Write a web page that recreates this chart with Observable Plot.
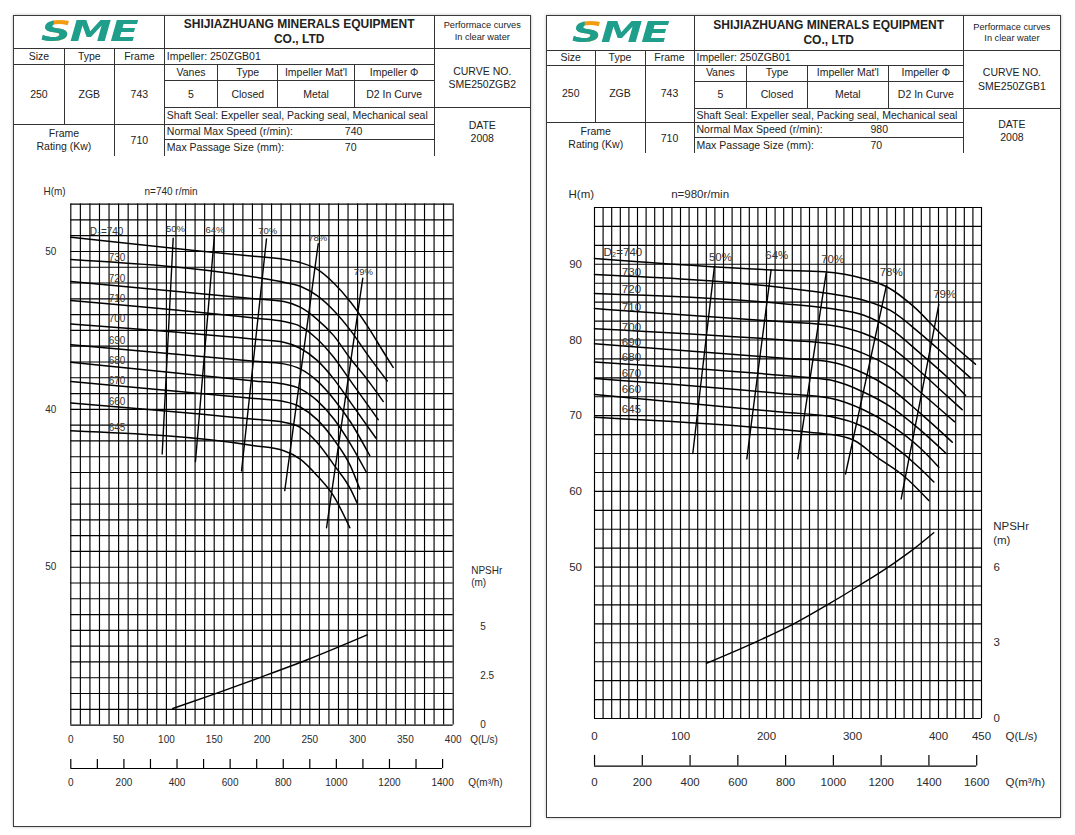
<!DOCTYPE html>
<html>
<head>
<meta charset="utf-8">
<script src="https://cdn.jsdelivr.net/npm/d3@7"></script>
<script src="https://cdn.jsdelivr.net/npm/@observablehq/plot@0.6"></script>
<style>
  html, body { margin: 0; padding: 0; background: #fff; }
  body { width: 1075px; height: 835px; position: relative; overflow: hidden;
         font-family: "Liberation Sans", Arial, Helvetica, sans-serif; color: #222; }
  .panel { position: absolute; border: 1px solid #3a3a3a; background: #fff; box-shadow: 0 0 3px #bbb; }
  .panel table { position: absolute; left: 0; top: 0; border-collapse: collapse; table-layout: fixed;
                 border-style: hidden; font-size: 10.5px; }
  .panel td { border: 1px solid #333; padding: 0; text-align: center; vertical-align: middle;
              line-height: 1.27; overflow: hidden; white-space: nowrap; }
  .panel td.l { text-align: left; padding-left: 2px; }
  .panel td.title { font-weight: bold; font-size: 12px; line-height: 1.27; }
  .panel td.small { font-size: 9.2px; line-height: 1.26; }
  .panel td.logocell { overflow: visible; line-height: 0.8; }
  .logo { display: inline-block; font-family: "DejaVu Sans", sans-serif; font-size: 28px; font-weight: bold;
          font-style: italic; letter-spacing: -1px; color: #1f9e8c; transform: scaleX(1.5); line-height: 0.8; }
  .logo .s { background: linear-gradient(to bottom, rgba(0,0,0,0) 0 36%, #1f9e8c 36%),
                         linear-gradient(to right, #1f9e8c 0 44%, #f39c12 44%);
             -webkit-background-clip: text; background-clip: text; color: transparent; }
  .panel .svgbox { position: absolute; left: 0; }
  .panel svg { display: block; }
</style>
</head>
<body>
<script>
// ---------------- DATA ----------------
const company = ["SHIJIAZHUANG MINERALS EQUIPMENT", "CO., LTD"];
const perfNote = ["Performace curves", "In clear water"];
const headerRow = ["Size", "Type", "Frame"];
const headerVals = ["250", "ZGB", "743"];
const impellerHead = ["Vanes", "Type", "Impeller Mat'l", "Impeller \u03A6"];
const impellerVals = ["5", "Closed", "Metal", "D2 In Curve"];
const shaftSeal = "Shaft Seal: Expeller seal, Packing seal, Mechanical seal";
const frameRating = "710";
const maxPassage = "70";
const dateText = "2008";

// Left chart (n = 740 r/min)
const leftCurveNo = "SME250ZGB2";
const leftSpeed = "740";
const leftD2 = [740, 730, 720, 710, 700, 690, 680, 670, 660, 645];
const leftHeadPts = [
  [[0,50.9],[129,50.06],[195,49.68],[223,49.5],[240,49.3],[258,48.86],[275,48.0],[292.6,46.8],[310,45.3],[327.4,43.6],[337.2,42.66]],
  [[0,49.49],[190,48.4],[222.8,48.05],[240,47.8],[257.7,47.2],[275,46.26],[292.6,45.0],[310,43.5],[331,41.8]],
  [[0,48.1],[192,47.0],[222.8,46.83],[240,46.47],[257.7,45.7],[275,44.67],[292.6,43.2],[310,41.9],[326.8,40.5]],
  [[0,46.9],[192,45.78],[222.8,45.56],[240,45.26],[257.7,44.46],[275,43.3],[292.6,41.8],[321.5,39.35]],
  [[0,45.4],[192,44.44],[222.8,44.25],[240,43.87],[257.7,43.1],[275,41.93],[292.6,40.44],[319.4,38.16]],
  [[0,44.1],[192,43.04],[222.8,42.88],[240,42.56],[257.7,41.8],[275,40.66],[292.6,39.2],[312.8,37.06]],
  [[0,42.98],[192,41.8],[222.8,41.6],[240,41.3],[257.7,40.55],[275,39.4],[292.6,37.8],[309.3,36.0]],
  [[0,41.76],[192,40.68],[222.8,40.49],[240,40.15],[257.7,39.35],[275,38.1],[292.6,36.4],[302.3,34.95]],
  [[0,40.4],[192,39.37],[222.8,39.18],[240,38.86],[257.7,37.9],[275,36.5],[292.6,34.95],[299.6,34.06]],
  [[0,38.65],[192,37.7],[222.8,37.38],[240,36.85],[257.7,35.8],[275,34.5],[291.9,32.5]]
];
const leftD2LabelH = [51.27, 49.6, 48.3, 47.0, 45.73, 44.36, 43.1, 41.8, 40.5, 38.8];
const leftD2LabelQ = [19.9, 39.7, 39.7, 39.7, 39.7, 39.7, 39.7, 39.7, 39.7, 39.7];
const leftEffNames = ["50%", "64%", "70%", "78%", "79%"];
const leftEffTop = [[107.1,50.84],[150.3,51.06],[204.7,50.8],[258.8,50.49],[305.4,48.3]];
const leftEffBottom = [[95.6,37.17],[130.4,36.7],[178.6,36.1],[223.8,34.85],[267.5,32.5]];
const leftEffLabel = [[109.5,51.4],[150.8,51.38],[206,51.27],[258.3,50.87],[306,48.73]];
const leftNpsh = [[106.7,0.84],[150,1.57],[198.4,2.42],[247.3,3.31],[310,4.57]];
const leftQTicks = [0, 50, 100, 150, 200, 250, 300, 350, 400];
const leftHTicks = [50, 40, 30];
const leftHTickLabels = ["50", "40", "50"];
const leftNpshTicks = [5, 2.5, 0];
const leftNpshTickLabels = ["5", "2.5", "0"];
const leftM3hTicks = [0,100,200,300,400,500,600,700,800,900,1000,1100,1200,1300,1400];
const leftM3hLabels = [0,200,400,600,800,1000,1200,1400];

// Right chart (n = 980 r/min)
const rightCurveNo = "SME250ZGB1";
const rightSpeed = "980";
const rightD2 = [740, 730, 720, 710, 700, 690, 680, 670, 660, 645];
const rightHeadPts = [
  [[0,90.76],[216,89.2],[266.7,89.0],[313.2,88.1],[340.3,87.0],[371.3,84.4],[402.3,80.85],[443,76.8]],
  [[0,88.65],[220,86.9],[274.4,86.1],[313.2,85.25],[344,83.9],[379,80.85],[410,77.76],[437.2,75.0]],
  [[0,86.13],[220,84.8],[274.4,84.15],[313.2,83.27],[344,81.5],[379,78.2],[410,75.1],[431.4,72.7]],
  [[0,84.15],[220,82.4],[274.4,81.95],[313.2,80.85],[344,79.1],[379,75.8],[402.3,73.4],[427.5,70.8]],
  [[0,81.5],[220,80.0],[274.4,79.5],[313.2,78.2],[344,76.4],[379,73.1],[418.6,69.2]],
  [[0,79.5],[220,77.6],[274.4,77.1],[313.2,75.6],[344,73.6],[379,70.3],[416,66.5]],
  [[0,77.1],[220,75.3],[274.4,74.7],[313.2,73.1],[344,71.2],[379,68.1],[409,65.0]],
  [[0,74.9],[220,72.9],[274.4,72.3],[313.2,70.75],[344,68.8],[379,65.7],[400.4,63.2]],
  [[0,72.8],[220,70.45],[274.4,69.9],[313.2,68.5],[344,66.3],[379,63.0],[394.6,61.25]],
  [[0,69.8],[225,68.1],[260,67.7],[282,67.4],[301.5,66.75],[328.7,64.5],[360,62.0],[388.7,58.8]]
];
const rightD2LabelH = [91.55, 89.0, 86.66, 84.3, 81.7, 79.7, 77.75, 75.6, 73.45, 70.8];
const rightD2LabelQ = [10.5, 31.8, 31.8, 31.8, 31.8, 31.8, 31.8, 31.8, 31.8, 31.8];
const rightEffNames = ["50%", "64%", "70%", "78%", "79%"];
const rightEffTop = [[139.5,89.75],[205.4,89.3],[269.4,88.87],[339.5,87.2],[400.4,84.7]];
const rightEffBottom = [[114.3,65.0],[177.1,64.3],[236.4,64.3],[291.9,62.3],[356.6,59.0]];
const rightEffLabel = [[146.5,90.97],[212,91.2],[277,90.6],[345,88.9],[407.2,86.0]];
const rightNpsh = [[130.2,2.19],[183.4,2.97],[231.7,3.75],[270.6,4.5],[309.3,5.3],[348,6.15],[371.3,6.72],[394.5,7.36]];
const rightQTicks = [0, 100, 200, 300, 400, 450];
const rightHTicks = [90, 80, 70, 60, 50];
const rightHTickLabels = ["90", "80", "70", "60", "50"];
const rightNpshTicks = [6, 3, 0];
const rightNpshTickLabels = ["6", "3", "0"];
const rightM3hTicks = [0,200,400,600,800,1000,1200,1400,1600];
const rightM3hLabels = [0,200,400,600,800,1000,1200,1400,1600];

// ---------------- BUILD ----------------
const FONT = '"Liberation Sans", Arial, Helvetica, sans-serif';

function headerHTML(c) {
  const tot = c.colW.reduce((a, b) => a + b, 0);
  const r = c.rowH;
  return `<table style="width:${tot}px">
  <colgroup>${c.colW.map(w => `<col style="width:${w}px">`).join("")}</colgroup>
  <tr style="height:${r[0]}px"><td colspan="3" class="logocell"><span class="logo"><span class="s">S</span>ME</span></td>
    <td colspan="4" class="title">${company[0]}<br>${company[1]}</td>
    <td class="small">${perfNote[0]}<br>${perfNote[1]}</td></tr>
  <tr style="height:${r[1]}px"><td>${headerRow[0]}</td><td>${headerRow[1]}</td><td>${headerRow[2]}</td>
    <td colspan="4" class="l">Impeller: 250ZGB01</td><td rowspan="3">CURVE NO.<br>${c.curveNo}</td></tr>
  <tr style="height:${r[2]}px"><td rowspan="3">${headerVals[0]}</td><td rowspan="3">${headerVals[1]}</td><td rowspan="3">${headerVals[2]}</td>
    ${impellerHead.map(t => `<td>${t}</td>`).join("")}</tr>
  <tr style="height:${r[3]}px">${impellerVals.map(t => `<td>${t}</td>`).join("")}</tr>
  <tr style="height:${r[4]}px"><td colspan="4" class="l">${shaftSeal}</td><td rowspan="3">DATE<br>${dateText}</td></tr>
  <tr style="height:${r[5]}px"><td colspan="2" rowspan="2">Frame<br>Rating (Kw)</td><td rowspan="2">${frameRating}</td>
    <td colspan="4" class="l"><span style="display:inline-block;width:${c.valueIndent}px">Normal Max Speed (r/min):</span>${c.speed}</td></tr>
  <tr style="height:${r[6]}px"><td colspan="4" class="l"><span style="display:inline-block;width:${c.valueIndent}px">Max Passage Size (mm):</span>${maxPassage}</td></tr>
  </table>`;
}

function mainPlot(c) {
  const toH = c.npshToH;
  const [yMin] = c.hDomain;
  const xMax = c.qDomain[1];
  const hLab = new Map(c.hTicks.map((t, i) => [t, c.hTickLabels[i]]));
  const nTicksH = c.npshTicks.map(toH);
  const nLab = new Map(nTicksH.map((t, i) => [t, c.npshTickLabels[i]]));
  const headRows = c.headPts.flatMap((pts, k) => pts.map(([q, h]) => ({d2: c.d2[k], q, h})));
  const effRows = c.effNames.flatMap((e, k) => [
    {eff: e, q: c.effTop[k][0], h: c.effTop[k][1]},
    {eff: e, q: c.effBottom[k][0], h: c.effBottom[k][1]}
  ]);
  const effLabels = c.effNames.map((e, k) => ({text: e, q: c.effLabel[k][0], h: c.effLabel[k][1]}));
  const d2Labels = c.d2.map((d, k) => ({text: k === 0 ? "D\u2082=" + d : String(d), q: c.d2LabelQ[k], h: c.d2LabelH[k]}));
  return Plot.plot({
    width: c.width,
    height: c.mt + c.frameH + c.mb,
    marginLeft: c.ml,
    marginRight: c.width - c.ml - c.frameW,
    marginTop: c.mt,
    marginBottom: c.mb,
    x: {domain: c.qDomain},
    y: {domain: c.hDomain},
    style: {fontFamily: FONT, fontSize: c.fs + "px", color: "#2a2a2a", background: "transparent", overflow: "visible"},
    marks: [
      Plot.ruleX(c.gridQ, {stroke: "#000", strokeWidth: 1.15}),
      Plot.ruleY(c.gridH, {stroke: "#000", strokeWidth: 1.15}),
      Plot.line(headRows, {x: "q", y: "h", z: "d2", curve: "monotone-x", stroke: "#000", strokeWidth: 1.5}),
      Plot.line(effRows, {x: "q", y: "h", z: "eff", stroke: "#000", strokeWidth: 1.4}),
      Plot.line(c.npsh, {x: d => d[0], y: d => toH(d[1]), curve: "monotone-x", stroke: "#000", strokeWidth: 1.4}),
      Plot.text(effLabels, {x: "q", y: "h", text: "text", fontSize: c.effFs, fill: "#333"}),
      Plot.text(d2Labels, {x: "q", y: "h", text: "text", textAnchor: "start", fontSize: c.fs, fill: "#333"}),
      Plot.axisX({ticks: c.qTicks, tickSize: 0, tickPadding: c.xPad, label: null, tickFormat: d => String(d)}),
      Plot.axisY({anchor: "left", ticks: c.hTicks, tickSize: 0, tickPadding: c.yPad, label: null, tickFormat: d => hLab.get(d)}),
      Plot.axisY({anchor: "right", ticks: nTicksH, tickSize: 0, tickPadding: c.nPad, label: null, tickFormat: d => nLab.get(d)}),
      Plot.text(["Q(L/s)"], {x: xMax, y: yMin, dx: c.qLabelDx, dy: c.xPad, lineAnchor: "top", textAnchor: "start", text: d => d}),
      Plot.text(["H(m)"], {frameAnchor: "top-left", dx: c.hLabelDx, dy: c.hLabelDy, textAnchor: "start", text: d => d}),
      Plot.text([c.speedText], {frameAnchor: "top-left", dx: c.speedDx, dy: c.hLabelDy, textAnchor: "start", text: d => d}),
      Plot.text(["NPSHr\n(m)"], {x: xMax, y: c.npshLabelH, dx: c.npshLabelDx, lineAnchor: "top", textAnchor: "start", lineHeight: 1.25, text: d => d})
    ]
  });
}

function flowPlot(c) {
  const xMax = c.qDomain[1] * 3.6;
  const last = c.m3hTicks[c.m3hTicks.length - 1];
  return Plot.plot({
    width: c.width,
    height: c.mt2 + c.frameH2 + c.mb2,
    marginLeft: c.ml,
    marginRight: c.width - c.ml - c.frameW,
    marginTop: c.mt2,
    marginBottom: c.mb2,
    x: {domain: [0, xMax]},
    y: {domain: [0, 1], axis: null},
    style: {fontFamily: FONT, fontSize: c.fs + "px", color: "#2a2a2a", background: "transparent", overflow: "visible"},
    marks: [
      Plot.ruleY([0], {x1: 0, x2: last, stroke: "#000", strokeWidth: 1.2}),
      Plot.ruleX(c.m3hTicks, {y1: 0, y2: 1, stroke: "#000", strokeWidth: 1.2}),
      Plot.axisX({ticks: c.m3hLabels, tickSize: 0, tickPadding: c.xPad2, label: null, tickFormat: d => String(d)}),
      Plot.text(["Q(m\u00B3/h)"], {x: xMax, y: 0, dx: c.m3hLabelDx, dy: c.xPad2, lineAnchor: "top", textAnchor: "start", text: d => d})
    ]
  });
}

const panels = [
  {
    panel: {left: 13, top: 15, width: 516, height: 810},
    colW: [50.3, 50, 50, 53.4, 60, 76.6, 79.7, 96],
    rowH: [32.3, 16, 16.7, 26.7, 16.6, 15.7, 15.7],
    valueIndent: 178,
    curveNo: leftCurveNo, speed: leftSpeed, speedText: "n=740 r/min",
    width: 516, ml: 56.3, frameW: 382.4, mt: 47.6, frameH: 521, mb: 30, mainTop: 139.7,
    mt2: 5, frameH2: 9, mb2: 30, flowTop: 738.3,
    qDomain: [0, 400], hDomain: [20, 53],
    gridQ: d3.range(0, 401, 10), gridH: d3.range(20, 54, 1),
    d2: leftD2, headPts: leftHeadPts, d2LabelQ: leftD2LabelQ, d2LabelH: leftD2LabelH,
    effNames: leftEffNames, effTop: leftEffTop, effBottom: leftEffBottom, effLabel: leftEffLabel,
    npsh: leftNpsh, npshToH: n => 20 + n * 1.25,
    qTicks: leftQTicks, hTicks: leftHTicks, hTickLabels: leftHTickLabels,
    npshTicks: leftNpshTicks, npshTickLabels: leftNpshTickLabels,
    m3hTicks: leftM3hTicks, m3hLabels: leftM3hLabels,
    fs: 10, effFs: 9.5, xPad: 11, xPad2: 10, yPad: 14.5, nPad: 27,
    qLabelDx: 17, m3hLabelDx: 15, hLabelDx: -27.3, hLabelDy: -16.6, speedDx: 73.7,
    npshLabelH: 30.15, npshLabelDx: 18
  },
  {
    panel: {left: 546, top: 15, width: 513, height: 801},
    colW: [48, 50, 49, 52.7, 60.6, 81, 75, 96.7],
    rowH: [34.7, 14.3, 16, 27.3, 14.4, 14.6, 16],
    valueIndent: 174,
    curveNo: rightCurveNo, speed: rightSpeed, speedText: "n=980r/min",
    width: 513, ml: 47, frameW: 387, mt: 54, frameH: 511, mb: 30, mainTop: 137.3,
    mt2: 6.9, frameH2: 10.7, mb2: 30, flowTop: 732.1,
    qDomain: [0, 450], hDomain: [30, 97.5],
    gridQ: d3.range(0, 451, 10), gridH: d3.range(30, 97.6, 2.5),
    d2: rightD2, headPts: rightHeadPts, d2LabelQ: rightD2LabelQ, d2LabelH: rightD2LabelH,
    effNames: rightEffNames, effTop: rightEffTop, effBottom: rightEffBottom, effLabel: rightEffLabel,
    npsh: rightNpsh, npshToH: n => 30 + n * 10 / 3,
    qTicks: rightQTicks, hTicks: rightHTicks, hTickLabels: rightHTickLabels,
    npshTicks: rightNpshTicks, npshTickLabels: rightNpshTickLabels,
    m3hTicks: rightM3hTicks, m3hLabels: rightM3hLabels,
    fs: 11.5, effFs: 11.5, xPad: 13, xPad2: 12, yPad: 12.5, nPad: 12,
    qLabelDx: 24, m3hLabelDx: 24, hLabelDx: -26, hLabelDy: -18, speedDx: 76.7,
    npshLabelH: 56.3, npshLabelDx: 11.7
  }
];

for (const c of panels) {
  const div = document.createElement("div");
  div.className = "panel";
  Object.assign(div.style, {left: c.panel.left + "px", top: c.panel.top + "px",
    width: c.panel.width + "px", height: c.panel.height + "px"});
  div.innerHTML = headerHTML(c);
  const box1 = document.createElement("div");
  box1.className = "svgbox";
  box1.style.top = c.mainTop + "px";
  box1.appendChild(mainPlot(c));
  const box2 = document.createElement("div");
  box2.className = "svgbox";
  box2.style.top = c.flowTop + "px";
  box2.appendChild(flowPlot(c));
  div.appendChild(box1);
  div.appendChild(box2);
  document.body.appendChild(div);
}
</script>
</body>
</html>
